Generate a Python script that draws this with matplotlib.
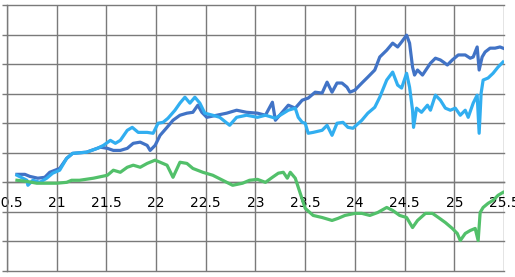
import matplotlib
matplotlib.use("Agg")
import matplotlib.pyplot as plt

# ---- data ----
db_x = [20.60, 20.68, 20.73, 20.81, 20.88, 20.93, 21.03, 21.10, 21.16, 21.30, 21.44, 21.51, 21.57, 21.64,
        21.71, 21.77, 21.84, 21.91, 21.94, 21.99, 22.04, 22.11, 22.17, 22.24, 22.31, 22.37, 22.42, 22.46,
        22.51, 22.61, 22.71, 22.81, 22.91, 23.02, 23.10, 23.17, 23.20, 23.33, 23.40, 23.47, 23.53, 23.60,
        23.67, 23.72, 23.77, 23.82, 23.87, 23.92, 23.95, 24.00, 24.07, 24.13, 24.20, 24.25, 24.32, 24.38,
        24.43, 24.47, 24.52, 24.55, 24.58, 24.60, 24.63, 24.68, 24.76, 24.81, 24.86, 24.89, 24.93, 24.98,
        25.04, 25.11, 25.16, 25.19, 25.23, 25.25, 25.28, 25.31, 25.36, 25.41, 25.46, 25.49]
db_y = [2.7, 2.7, 2.0, 1.4, 1.7, 3.4, 4.7, 8.1, 9.8, 10.2, 11.9, 11.5, 10.8, 10.8,
        11.5, 13.2, 13.6, 12.5, 10.8, 12.5, 15.9, 18.6, 21.0, 22.7, 23.4, 23.7, 26.1, 23.7,
        22.0, 22.7, 23.4, 24.4, 23.7, 23.4, 22.7, 27.1, 21.0, 26.1, 25.1, 27.8, 28.5, 30.5,
        30.2, 33.9, 30.5, 33.6, 33.6, 32.2, 30.5, 31.2, 33.6, 35.6, 38.0, 42.4, 44.7, 47.1,
        45.8, 47.5, 49.8, 47.1, 39.0, 36.3, 38.0, 36.3, 40.3, 42.0, 41.4, 40.7, 39.7, 41.4,
        43.1, 43.1, 42.0, 42.4, 45.8, 38.0, 42.4, 44.1, 45.4, 45.4, 45.8, 45.4]

lb_x = [20.60, 20.70, 20.71, 20.76, 20.83, 20.90, 20.96, 21.03, 21.10, 21.16, 21.30, 21.41, 21.47, 21.54,
        21.59, 21.64, 21.71, 21.76, 21.82, 21.91, 21.97, 22.02, 22.07, 22.12, 22.19, 22.24, 22.29, 22.34,
        22.39, 22.44, 22.49, 22.57, 22.64, 22.74, 22.81, 22.91, 23.02, 23.10, 23.20, 23.33, 23.40, 23.43,
        23.47, 23.50, 23.53, 23.58, 23.67, 23.72, 23.77, 23.82, 23.88, 23.93, 23.98, 24.07, 24.13, 24.20,
        24.25, 24.32, 24.38, 24.43, 24.47, 24.52, 24.55, 24.58, 24.59, 24.62, 24.67, 24.73, 24.76, 24.81,
        24.86, 24.91, 24.96, 25.01, 25.06, 25.11, 25.14, 25.19, 25.23, 25.25, 25.27, 25.29, 25.34, 25.39,
        25.44, 25.49]
lb_y = [2.4, 0.7, -1.0, 0.7, 0.0, 1.4, 3.1, 4.1, 8.1, 9.8, 10.2, 11.5, 12.5, 14.2,
        13.2, 14.2, 17.6, 18.6, 16.9, 16.9, 16.6, 20.0, 20.3, 21.7, 24.4, 26.8, 28.8, 26.8,
        28.8, 26.8, 23.4, 22.7, 22.0, 19.3, 22.0, 22.7, 22.0, 22.7, 21.7, 24.4, 25.1, 22.0,
        20.3, 20.0, 16.6, 16.9, 17.6, 19.3, 15.9, 20.0, 20.3, 18.6, 18.3, 21.0, 23.4, 25.4,
        28.8, 34.6, 37.3, 32.9, 31.9, 36.9, 32.2, 24.4, 18.6, 25.1, 23.7, 26.1, 24.4, 29.5,
        27.8, 25.1, 24.4, 25.1, 22.7, 24.4, 22.0, 26.8, 29.5, 16.6, 30.2, 34.6, 35.3, 36.9,
        39.0, 40.7]

gr_x = [20.60, 20.70, 20.80, 20.90, 21.00, 21.10, 21.15, 21.23, 21.37, 21.51, 21.57, 21.64, 21.71, 21.77,
        21.84, 21.91, 21.99, 22.04, 22.11, 22.17, 22.24, 22.31, 22.37, 22.47, 22.57, 22.67, 22.77, 22.87,
        22.94, 23.02, 23.10, 23.17, 23.23, 23.28, 23.32, 23.35, 23.40, 23.45, 23.50, 23.58, 23.67, 23.77,
        23.83, 23.90, 24.00, 24.07, 24.15, 24.23, 24.32, 24.38, 24.45, 24.52, 24.58, 24.63, 24.71, 24.78,
        24.84, 24.91, 24.98, 25.03, 25.06, 25.11, 25.16, 25.21, 25.24, 25.26, 25.29, 25.34, 25.39, 25.44,
        25.49]
gr_y = [0.7, 0.3, -0.3, -0.3, -0.3, 0.0, 0.7, 0.7, 1.4, 2.4, 4.1, 3.4, 5.1, 5.8,
        5.1, 6.4, 7.5, 6.8, 5.8, 1.7, 6.8, 6.4, 4.7, 3.4, 2.4, 0.7, -1.0, -0.3,
        0.7, 1.0, 0.0, 1.7, 3.1, 3.4, 1.4, 3.4, 1.4, -3.7, -8.8, -11.2, -11.9, -12.9,
        -12.2, -11.2, -10.5, -10.5, -11.2, -10.2, -8.5, -9.5, -11.2, -11.9, -15.3, -12.9, -10.5, -10.5,
        -11.9, -13.6, -15.6, -17.3, -19.7, -17.3, -16.3, -15.6, -19.7, -10.2, -8.5, -7.1, -6.1, -4.4,
        -3.4]

x_ticks = [20.5, 21, 21.5, 22, 22.5, 23, 23.5, 24, 24.5, 25, 25.5]
x_labels = ["20.5", "21", "21.5", "22", "22.5", "23", "23.5", "24", "24.5", "25", "25.5"]
y_ticks = [-30, -20, -10, 0, 10, 20, 30, 40, 50, 60]

# ---- figure ----
W, H = 515, 277
fig = plt.figure(figsize=(W / 100, H / 100), dpi=100)
ax = fig.add_axes([7 / W, (H - 271) / H, (504 - 7) / W, (271 - 5) / H])
ax.set_xlim(20.5, 25.5)
ax.set_ylim(-30, 60)

grid_c = "#7a7a7a"
ax.set_xticks(x_ticks)
ax.set_xticklabels(x_labels, fontsize=7.2, color="#111111", family="DejaVu Sans")
ax.set_yticks(y_ticks)
ax.set_yticklabels([])
ax.grid(True, color=grid_c, linewidth=1.0)
ax.set_axisbelow(True)
for gl in ax.get_xgridlines() + ax.get_ygridlines():
    gl.set_clip_on(False)

for s in ["top", "right"]:
    ax.spines[s].set_visible(False)
ax.spines["left"].set_color(grid_c)
ax.spines["left"].set_linewidth(1.0)
ax.spines["bottom"].set_position(("data", 0))
ax.spines["bottom"].set_color(grid_c)
ax.spines["bottom"].set_linewidth(1.0)

ax.tick_params(axis="x", length=0, pad=9.6)
ax.tick_params(axis="y", length=3.5, width=1.0, color=grid_c, direction="out")

lw = 2.3
ax.plot(db_x, db_y, color="#4173c6", lw=lw, solid_joinstyle="round", zorder=3)
ax.plot(lb_x, lb_y, color="#31aef0", lw=lw, solid_joinstyle="round", zorder=4)
ax.plot(gr_x, gr_y, color="#52c06a", lw=lw, solid_joinstyle="round", zorder=5)

fig.savefig("out.png", dpi=100)
